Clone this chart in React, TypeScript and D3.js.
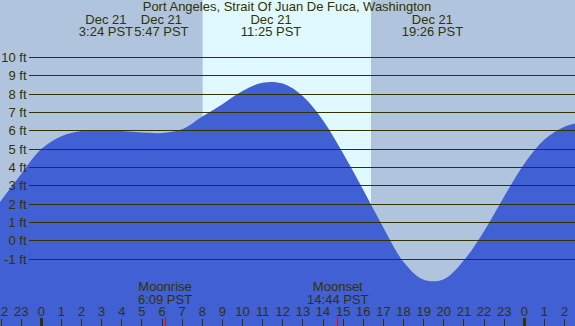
import * as d3 from 'd3';

// hourly tide heights (ft), hour 0 = Dec 21 00:00 PST
const tideHours = [-3, -2, -1, 0, 1, 2, 3, 4, 5, 6, 7, 8, 9, 10, 11, 12, 13, 14, 15, 16, 17, 18, 19, 20, 21, 22, 23, 24, 25, 26, 27];
const tideFeet = [0.7, 2.2, 3.65, 5.0, 5.7, 5.98, 6.04, 5.98, 5.9, 5.88, 6.08, 6.77, 7.45, 8.17, 8.62, 8.57, 7.88, 6.56, 4.76, 2.77, 0.72, -1.15, -2.12, -2.08, -1.05, 0.53, 2.42, 4.2, 5.52, 6.22, 6.5];

const eventDates = ['Dec 21', 'Dec 21', 'Dec 21', 'Dec 21'];
const eventTimes = ['3:24 PST', '5:47 PST', '11:25 PST', '19:26 PST'];

const moonLabels = ['Moonrise', 'Moonset'];
const moonTimes = ['6:09 PST', '14:44 PST'];

const sunrise = '8:01';
const sunset = '16:23';

const feetTicks = [-1, 0, 1, 2, 3, 4, 5, 6, 7, 8, 9, 10];
const hourTicks = d3.range(-2, 27);

const W = 575;
const H = 326;
const INK = '#333300';
const FONT = "'Liberation Sans', Arial, Helvetica, sans-serif";

const toHour = (t: string) => {
  const [hh, mm] = t.split(' ')[0].split(':').map(Number);
  return hh + mm / 60;
};

export default function App() {
  const x = d3.scaleLinear().domain([0, 24]).range([41.3, 524.3]);
  const y = d3.scaleLinear().domain([-1, 10]).range([259.3, 57.3]);

  const pts = tideHours.map((h, i) => [h, tideFeet[i]] as [number, number]);
  const area = d3.area<[number, number]>()
    .x(d => x(d[0])).y0(H).y1(d => y(d[1]))
    .curve(d3.curveCatmullRom.alpha(0.5));

  // spread event labels that would overlap
  const minGap = 55.5;
  const evX = eventTimes.map(t => x(toHour(t)));
  for (let i = 1; i < evX.length; i++) {
    const gap = evX[i] - evX[i - 1];
    if (gap < minGap) {
      const d = (minGap - gap) / 2;
      evX[i - 1] -= d;
      evX[i] += d;
    }
  }

  const dayX0 = x(toHour(sunrise));
  const dayX1 = x(toHour(sunset));

  return (
    <svg width={W} height={H} style={{ position: 'absolute', left: 0, top: 0, display: 'block' }}
      fontFamily={FONT} fontSize={13}>
      <rect x={0} y={0} width={W} height={H} fill="#b0c4de" />
      <rect x={dayX0} y={0} width={dayX1 - dayX0} height={H} fill="#e0f8ff" />
      <path d={area(pts) || ''} fill="#4060d4" />

      {feetTicks.map(f => {
        const yy = Math.floor(y(f)) + 0.5;
        return (
          <g key={f}>
            <line x1={29} x2={W} y1={yy} y2={yy} stroke={INK} strokeWidth={1} />
            <text x={26.5} y={yy} dy="0.36em" textAnchor="end" fill={INK}>{`${f} ft`}</text>
          </g>
        );
      })}

      <text x={287} y={11} textAnchor="middle" fill={INK}>Port Angeles, Strait Of Juan De Fuca, Washington</text>
      {eventTimes.map((t, i) => (
        <g key={t}>
          <text x={evX[i]} y={24} textAnchor="middle" fill={INK}>{eventDates[i]}</text>
          <text x={evX[i]} y={35.5} textAnchor="middle" fill={INK}>{t}</text>
        </g>
      ))}

      {moonLabels.map((l, i) => {
        const mx = x(toHour(moonTimes[i]));
        return (
          <g key={l}>
            <text x={mx} y={291} textAnchor="middle" fill={INK}>{l}</text>
            <text x={mx} y={303.5} textAnchor="middle" fill={INK}>{moonTimes[i]}</text>
            <line x1={Math.floor(mx) + 0.5} x2={Math.floor(mx) + 0.5} y1={317} y2={H} stroke="#ff0000" strokeWidth={1} />
          </g>
        );
      })}

      {hourTicks.map(h => {
        const hx = Math.floor(x(h)) + 0.5;
        const mid = ((h % 24) + 24) % 24 === 0;
        return (
          <g key={h}>
            <text x={x(h)} y={316} textAnchor="middle" fill={INK}>{((h % 24) + 24) % 24}</text>
            <line x1={hx} x2={hx} y1={mid ? 318 : 319} y2={H} stroke={INK} strokeWidth={mid ? 3 : 1} />
          </g>
        );
      })}
    </svg>
  );
}
